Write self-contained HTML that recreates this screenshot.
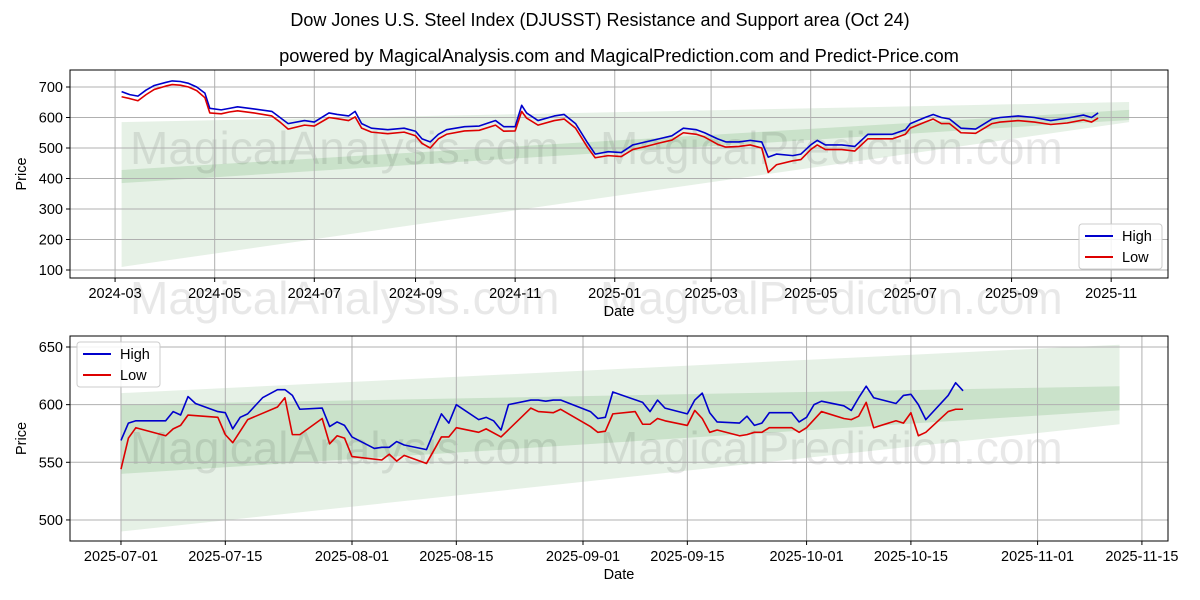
<!DOCTYPE html>
<html><head><meta charset="utf-8"><style>
body{margin:0;background:#fff;}
svg{display:block;font-family:"Liberation Sans","DejaVu Sans",sans-serif;}
</style></head><body>
<svg id="c" width="1200" height="600" viewBox="0 0 1200 600">
<text x="600" y="26" text-anchor="middle" font-size="18">Dow Jones U.S. Steel Index (DJUSST) Resistance and Support area (Oct 24)</text>
<text x="619" y="62" text-anchor="middle" font-size="18.3">powered by MagicalAnalysis.com and MagicalPrediction.com and Predict-Price.com</text>
</svg>
<script>
// ---- top chart data (full history) ----
const topDates=["2024-03-05","2024-03-10","2024-03-15","2024-03-20","2024-03-25","2024-04-01","2024-04-05","2024-04-10","2024-04-15","2024-04-20","2024-04-25","2024-04-28","2024-05-05","2024-05-10","2024-05-15","2024-05-25","2024-06-05","2024-06-10","2024-06-15","2024-06-25","2024-07-01","2024-07-10","2024-07-15","2024-07-22","2024-07-26","2024-07-30","2024-08-05","2024-08-15","2024-08-25","2024-09-01","2024-09-05","2024-09-10","2024-09-15","2024-09-20","2024-10-01","2024-10-10","2024-10-20","2024-10-25","2024-11-01","2024-11-05","2024-11-08","2024-11-15","2024-11-25","2024-12-01","2024-12-08","2024-12-15","2024-12-20","2024-12-28","2025-01-05","2025-01-12","2025-01-20","2025-01-28","2025-02-05","2025-02-12","2025-02-20","2025-02-25","2025-03-05","2025-03-10","2025-03-18","2025-03-25","2025-04-01","2025-04-05","2025-04-10","2025-04-20","2025-04-25","2025-05-01","2025-05-05","2025-05-10","2025-05-20","2025-05-28","2025-06-05","2025-06-12","2025-06-20","2025-06-28","2025-07-01","2025-07-10","2025-07-15","2025-07-20","2025-07-25","2025-08-01","2025-08-10","2025-08-20","2025-08-25","2025-09-05","2025-09-15","2025-09-25","2025-10-05","2025-10-15","2025-10-20","2025-10-24"];
const topHigh=[685,675,670,690,705,715,720,718,712,700,680,630,625,630,635,628,620,600,580,590,585,615,610,605,620,580,565,560,565,555,530,520,545,560,570,572,590,570,570,640,615,590,605,610,580,520,480,488,485,510,520,530,540,565,560,550,530,520,520,525,520,470,480,475,480,510,525,510,510,505,545,545,545,560,580,600,610,600,595,565,562,595,600,605,600,590,598,608,600,615];
const topLow=[668,662,655,675,692,703,708,706,700,688,665,615,612,618,622,615,605,585,562,575,572,600,596,590,602,565,552,547,552,540,515,500,530,545,556,558,575,555,556,620,598,575,590,595,565,505,468,475,472,495,505,516,526,550,545,536,512,503,505,510,500,420,445,458,462,495,510,495,495,490,530,530,530,545,565,585,595,580,580,550,548,580,585,590,585,577,582,592,585,598];
const topYTicks=[100,200,300,400,500,600,700];
const topXTicks=["2024-03","2024-05","2024-07","2024-09","2024-11","2025-01","2025-03","2025-05","2025-07","2025-09","2025-11"];
const topBandOuter={start:"2024-03-05",end:"2025-11-12",topL:585,topR:651,botL:110,botR:585};
const topBandInner={start:"2024-03-05",end:"2025-11-12",topL:428,topR:625,botL:385,botR:592};
// ---- bottom chart data (days since 2025-07-01) ----
const botHighDays=[0,1,2,6,7,8,9,10,13,14,15,16,17,19,21,22,23,24,27,28,29,30,31,34,35,36,37,38,41,43,44,45,48,49,50,51,52,55,56,57,58,59,63,64,65,66,70,71,72,73,76,77,78,79,80,83,84,85,86,87,90,91,92,93,94,97,98,99,100,101,104,105,106,107,108,111,112,113];
const botHigh=[569,584,586,586,594,591,607,601,594,593,579,589,592,606,613,613,608,596,597,581,585,582,572,562,563,563,568,565,561,592,584,600,587,589,586,578,600,604,604,603,604,604,594,588,589,611,602,594,604,597,592,604,610,593,585,584,590,582,584,593,593,585,589,600,603,599,595,606,616,606,601,608,609,600,587,608,619,612];
const botLowDays=[0,1,2,6,7,8,9,13,14,15,17,21,22,23,24,27,28,29,30,31,35,36,37,38,41,43,44,45,48,49,51,55,56,58,59,63,64,65,66,69,70,71,72,73,76,77,78,79,80,83,84,85,86,87,90,91,92,94,97,98,99,100,101,104,105,106,107,108,111,112,113];
const botLow=[544,571,580,573,579,582,591,589,574,567,587,598,606,574,574,588,566,573,571,555,552,557,551,556,549,572,572,580,576,579,572,597,594,593,596,581,576,577,592,594,583,583,588,586,582,595,588,576,578,573,574,576,576,580,580,576,580,594,588,587,590,602,580,586,584,593,573,576,594,596,596];
const botYTicks=[500,550,600,650];
const botXTicks=["2025-07-01","2025-07-15","2025-08-01","2025-08-15","2025-09-01","2025-09-15","2025-10-01","2025-10-15","2025-11-01","2025-11-15"];
const botBandOuter={start:0,end:134,topL:610,topR:652,botL:490,botR:583};
const botBandInner={start:0,end:134,topL:600,topR:616,botL:540,botR:595};

const NS="http://www.w3.org/2000/svg";
const svg=document.getElementById('c');
function mk(tag,attrs,parent,text){const e=document.createElementNS(NS,tag);for(const k in attrs)e.setAttribute(k,attrs[k]);if(text!==undefined)e.textContent=text;(parent||svg).appendChild(e);return e;}
const DAY=86400000;
const base24=Date.UTC(2024,2,1), base25=Date.UTC(2025,6,1);
function dTop(s){const p=s.split('-').map(Number);return (Date.UTC(p[0],p[1]-1,p[2]||1)-base24)/DAY;}
function dBot(s){const p=s.split('-').map(Number);return (Date.UTC(p[0],p[1]-1,p[2]||1)-base25)/DAY;}

function panel(cfg){
  const {L,R,T,B,xmin,xmax,ymin,ymax}=cfg;
  const sx=v=>L+(v-xmin)/(xmax-xmin)*(R-L);
  const sy=v=>B-(v-ymin)/(ymax-ymin)*(B-T);
  const g=mk('g',{});  
  [[cfg.outer,'#2e8b2e',0.12,'band-outer'],[cfg.inner,'#2e8b2e',0.15,'band-inner']].forEach(([b,c,o,n])=>{
    const x1=sx(b.s),x2=sx(b.e);
    const p=mk('polygon',{points:`${x1},${sy(b.topL)} ${x2},${sy(b.topR)} ${x2},${sy(b.botR)} ${x1},${sy(b.botL)}`,fill:c,'fill-opacity':o},g);
     
  });
  cfg.marks.forEach(m=>{const t=mk('text',{x:m[0],y:m[1],'font-size':46,fill:'#000','fill-opacity':0.09},g,m[2]);});
  cfg.yt.forEach(v=>{const y=sy(v);
    mk('line',{x1:L,x2:R,y1:y,y2:y,stroke:'#b0b0b0','stroke-width':1},g);
    mk('line',{x1:L-4,x2:L,y1:y,y2:y,stroke:'#000'},g);
    const t=mk('text',{x:L-7,y:y+5,'text-anchor':'end','font-size':14.5},g,String(v));});
  cfg.xt.forEach(([v,lab])=>{const x=sx(v);
    mk('line',{x1:x,x2:x,y1:T,y2:B,stroke:'#b0b0b0','stroke-width':1},g);
    mk('line',{x1:x,x2:x,y1:B,y2:B+4,stroke:'#000'},g);
    const t=mk('text',{x:x,y:B+20,'text-anchor':'middle','font-size':14.5},g,lab);});
  cfg.series.forEach(s=>{const pts=s.x.map((d,i)=>sx(d)+','+sy(s.y[i])).join(' ');
    const l=mk('polyline',{points:pts,fill:'none',stroke:s.c,'stroke-width':1.6,'stroke-linejoin':'round'},g);
    });
  const fr=mk('rect',{x:L,y:T,width:R-L,height:B-T,fill:'none',stroke:'#000','stroke-width':1},g);
  
  const xl=mk('text',{x:(L+R)/2,y:B+38,'text-anchor':'middle','font-size':14.5},g,'Date');
  
  const yl=mk('text',{x:0,y:0,'text-anchor':'middle','font-size':14.5,transform:`translate(26,${(T+B)/2}) rotate(-90)`},g,'Price');
  
  const [lx,ly]=cfg.leg;
  const lg=mk('g',{},g);
  mk('rect',{x:lx,y:ly,width:83,height:45,rx:3,fill:'#fff','fill-opacity':0.85,stroke:'#ccc'},lg);
  [['High','#0000cc',0],['Low','#dd0000',1]].forEach(([n,c,i])=>{const yy=ly+12+i*21;
    mk('line',{x1:lx+6,x2:lx+34,y1:yy,y2:yy,stroke:c,'stroke-width':2},lg);
    const t=mk('text',{x:lx+43,y:yy+5,'font-size':14.5},lg,n);});
}

panel({name:'top-panel',L:70,R:1168,T:70,B:278,xmin:-27.6,xmax:644.8,ymin:700-(278-87)/0.305,ymax:700+(87-70)/0.305,
  outer:{s:dTop(topBandOuter.start),e:dTop(topBandOuter.end),topL:topBandOuter.topL,topR:topBandOuter.topR,botL:topBandOuter.botL,botR:topBandOuter.botR},
  inner:{s:dTop(topBandInner.start),e:dTop(topBandInner.end),topL:topBandInner.topL,topR:topBandInner.topR,botL:topBandInner.botL,botR:topBandInner.botR},
  marks:[[130,164,'MagicalAnalysis.com'],[600,164,'MagicalPrediction.com'],[130,314,'MagicalAnalysis.com'],[600,314,'MagicalPrediction.com']],
  yt:topYTicks,xt:topXTicks.map(s=>[dTop(s),s]),
  series:[{x:topDates.map(dTop),y:topHigh,c:'#0000cc',n:'high-line'},{x:topDates.map(dTop),y:topLow,c:'#dd0000',n:'low-line'}],
  leg:[1079,224]});
panel({name:'bottom-panel',L:70,R:1168,T:336,B:541,xmin:-6.84,xmax:140.5,ymin:650-(541-347)/1.153,ymax:650+(347-336)/1.153,
  outer:{s:botBandOuter.start,e:botBandOuter.end,topL:botBandOuter.topL,topR:botBandOuter.topR,botL:botBandOuter.botL,botR:botBandOuter.botR},
  inner:{s:botBandInner.start,e:botBandInner.end,topL:botBandInner.topL,topR:botBandInner.topR,botL:botBandInner.botL,botR:botBandInner.botR},
  marks:[[130,464,'MagicalAnalysis.com'],[600,464,'MagicalPrediction.com']],
  yt:botYTicks,xt:botXTicks.map(s=>[dBot(s),s]),
  series:[{x:botHighDays,y:botHigh,c:'#0000cc',n:'high-line'},{x:botLowDays,y:botLow,c:'#dd0000',n:'low-line'}],
  leg:[77,342]});
</script>
</body></html>
